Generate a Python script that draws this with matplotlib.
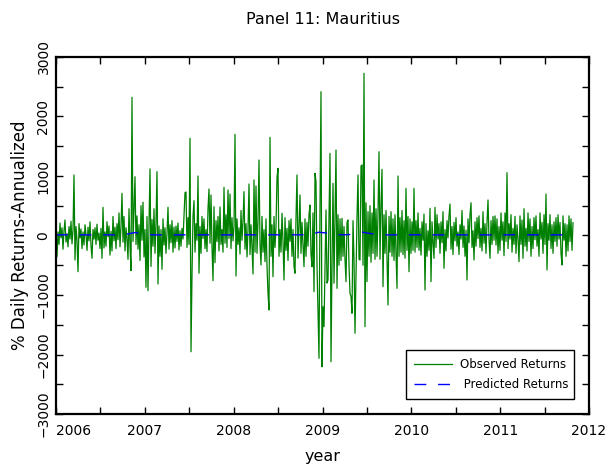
import numpy as np
import matplotlib
matplotlib.use("Agg")
import matplotlib.pyplot as plt

# Observed daily returns (annualized %), roughly one value per pixel column
observed = [
    120, -356, 60, -150, 210, -40, 130, -230, 80, 260, -110, 30, -190, 150, -60, 240, -140, 90, 1017, -412,
    150, -80, -608, 200, -40, 110, -220, 60, -160, 180, 20, -250, 140, -90, 230, -170, -383, 100, -60, 130,
    -150, 190, -80, 40, -220, 120, -383, 474, -210, 60, -180, 230, -20, 160, -330, 70, -260, 320, -90, 140,
    -220, 200, -70, 380, -190, 150, 709, -110, 320, -260, 130, -60, -400, 450, -180, -590, 2323, -100, 420, 988,
    -150, 330, -230, 180, -420, 500, -80, 560, -360, 100, -871, 320, -928, 180, 1120, -520, 270, -180, 450, -300,
    220, 1073, -815, 160, -350, 100, -568, 280, -160, 130, -300, 50, 474, -230, 180, -120, 250, -280, 140, -210,
    160, -100, 210, -244, 80, -180, 120, -60, 350, 720, 731, -200, 300, -150, 1634, -1953, -664, 320, 585, -280,
    200, -80, 1000, -635, 150, -300, 320, -50, 280, -220, 100, -270, 450, 782, -130, 681, -190, -760, 484, -457,
    250, -100, 320, -260, 480, -150, 100, -280, 810, -130, 350, -200, 765, -50, 697, -220, 300, -90, 150, 1700,
    -681, 280, -150, 130, -311, 420, -80, 250, 737, -230, 200, -360, 100, 866, -320, 180, -200, -647, 933, -280,
    832, -300, 250, 1269, -150, -496, 320, -280, 100, -440, 280, -520, -971, -1252, 1650, -350, 180, -692, 320, -200,
    150, 978, 1129, -350, 100, -280, 373, -100, -748, 300, -250, 120, -420, 250, -100, 280, -350, 100, -520, -635,
    300, 1017, -380, 150, 681, -300, 220, -150, -524, 280, -350, 220, -180, 350, 513, -320, -524, 380, -944, 1045,
    904, -500, -1252, -2064, 513, 2417, -2205, -1196, -1532, -600, 429, -800, -748, 280, 1381, -2121, -500, 877, -803, 350,
    1437, -888, 350, -500, 280, -420, 289, -350, 150, -400, -776, 220, 261, -500, -971, -1028, -1308, 250, -400, -1644,
    -700, 300, 1017, -400, -412, 1168, 1185, -500, 2726, -1532, 550, -776, 400, -350, 500, -450, 380, -300, 933, -400,
    450, -350, 380, 1408, -400, 500, 1112, -860, 350, -300, 420, -400, -1168, 320, -280, 400, -350, 280, -420, 350,
    -320, -888, 1000, -350, 300, -280, 420, -320, 250, -380, 793, -250, 320, -608, 280, -300, 230, -250, 793, -280,
    250, -200, 380, -250, 120, -330, 230, -80, 360, -916, 200, -350, 80, -250, 457, -776, 230, -120, -383, 474,
    -200, 350, -60, 200, -300, 230, -120, 400, -551, 100, -260, 250, -40, 330, 529, -230, 150, -320, 220, -90,
    300, -180, 60, -320, 180, -60, 420, -200, 160, -350, 90, -748, 280, -120, 350, 551, -200, 80, -412, 230,
    -180, 300, -50, 330, -200, 120, -260, 400, -130, 200, -300, 220, 597, -60, -383, 250, -150, 320, -80, 330,
    -160, 280, -300, 150, -250, 380, -80, 230, -340, 380, -100, 1056, -220, 200, -60, 350, -280, 120, -150, 320,
    -300, 180, -60, -440, 330, -150, 260, -383, 450, -180, 120, -260, 380, -100, 280, -350, 150, -220, 300, -70,
    330, -180, 100, -350, 380, -60, 220, -300, 350, -150, 697, -580, 200, -80, 350, -220, 180, -300, 230, -100,
    300, -180, 350, -60, 220, -300, -496, 330, -80, 200, -350, 180, -260, 330, -100, 280, -250, 215,
]
obs_start, obs_end = 2006.0, 2011.82

# Predicted returns (near zero, small bumps)
predicted = [
    10, 12, 10, 11, 10, 12, 11, 10, 20, 50, 25, 12, 10, 11, 10, 12, 10, 11, 12, 10,
    11, 10, 12, 10, 11, 12, 10, 11, 12, 20, 55, 40, 15, 12, 20, 55, 30, 12, 10, 11,
    10, 12, 10, 11, 10, 12, 11, 10, 12, 10, 11, 10, 12, 10, 11, 12, 10, 11, 12, 10,
]

years = [2006, 2007, 2008, 2009, 2010, 2011, 2012]
yticks = [-3000, -2000, -1000, 0, 1000, 2000, 3000]
ytick_labels = ["\u22123000", "\u22122000", "\u22121000", "0", "1000", "2000", "3000"]

obs_x = np.linspace(obs_start, obs_end, len(observed))
pred_x = np.linspace(obs_start, obs_end, len(predicted))

fig = plt.figure(figsize=(6.08, 4.66), dpi=100)
ax = fig.add_axes([56 / 608, 52 / 466, 533 / 608, 357 / 466])

ax.plot(obs_x, observed, color="#008000", lw=0.9, label="Observed Returns")
ax.plot(pred_x, predicted, color="#0000ff", lw=1.0, dashes=(8.5, 8.5),
        label=" Predicted Returns")

ax.set_xlim(2006, 2012)
ax.set_ylim(-3000, 3000)
ax.set_xticks(years)
ax.set_xticklabels([str(y) for y in years])
ax.set_xticks(np.arange(2006.5, 2012, 1.0), minor=True)
ax.set_yticks(yticks)
ax.set_yticklabels(ytick_labels, rotation=90, va="center")
ax.set_yticks(np.arange(-2500, 3000, 1000), minor=True)
ax.tick_params(which="both", direction="in", top=True, right=True,
               labelsize=10, width=1.0)
ax.tick_params(which="major", length=5)
ax.tick_params(which="minor", length=5)
ax.tick_params(axis="y", pad=4)
ax.tick_params(axis="x", pad=7)
ax.get_xticklabels()[0].set_ha("left")
for s in ax.spines.values():
    s.set_linewidth(1.6)

ax.set_title("Panel 11: Mauritius", fontsize=11.5, pad=24)
ax.set_xlabel("year", fontsize=11.5, labelpad=8)
ax.set_ylabel("% Daily Returns-Annualized", fontsize=12, labelpad=5)

leg = ax.legend(loc="lower left", bbox_to_anchor=(0.657, 0.042, 0.315, 0.129),
                mode="expand", borderaxespad=0,
                fontsize=8.5, fancybox=False, edgecolor="black", framealpha=1,
                handlelength=3.2, handletextpad=0.7, borderpad=0.7, labelspacing=0.55)
leg.get_frame().set_linewidth(1.0)

fig.savefig("out.png", dpi=100)
